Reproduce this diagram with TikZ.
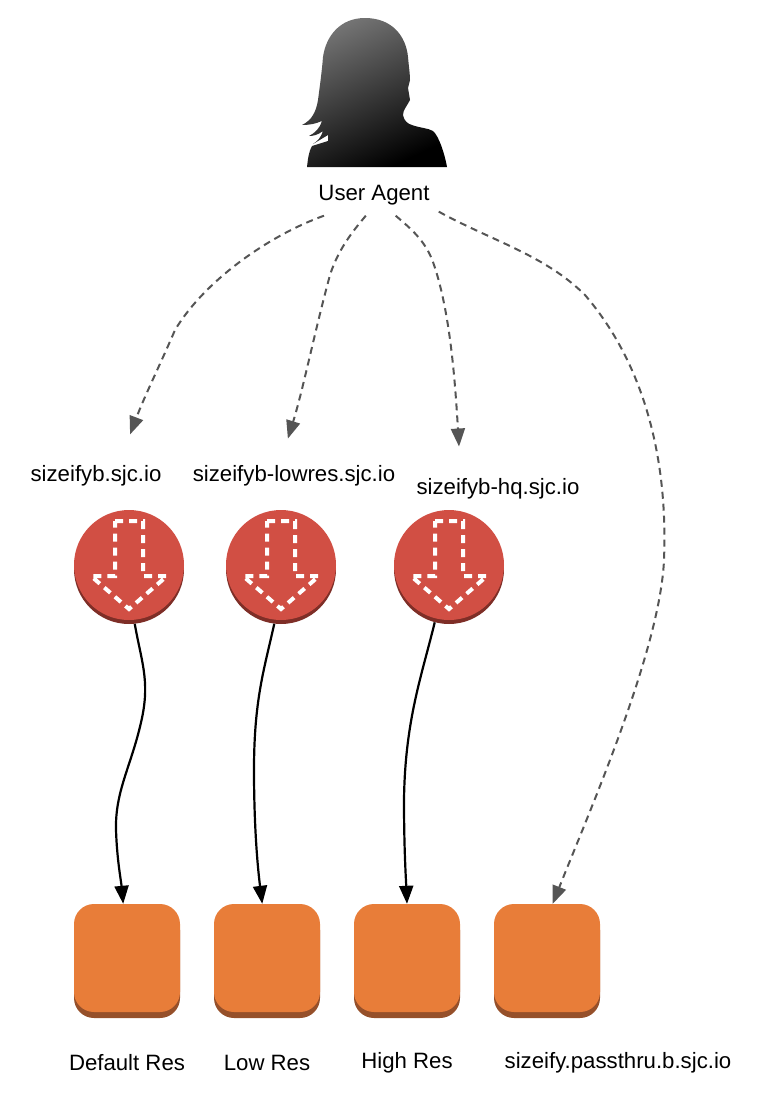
\documentclass[tikz,border=0pt]{standalone}
\usepackage{fontspec}
\setmainfont{Liberation Sans}
\usetikzlibrary{arrows.meta}
\definecolor{lbred}{HTML}{D14F44}
\definecolor{lbdark}{HTML}{7E2E27}
\definecolor{bucketorange}{HTML}{E87D39}
\definecolor{bucketdark}{HTML}{96502A}
\definecolor{edgegray}{HTML}{555555}
\tikzset{
  lbnode/.style={circle,fill=lbred,minimum size=110pt,inner sep=0pt},
  lbshadow/.style={circle,fill=lbdark,minimum size=110pt,inner sep=0pt},
  lbarrow/.style={draw=white,line width=4pt,dash pattern=on 8pt off 6pt},
  bucketnode/.style={rectangle,rounded corners=20pt,fill=bucketorange,minimum width=106pt,minimum height=108pt,inner sep=0pt},
  bucketshadow/.style={rectangle,rounded corners=20pt,fill=bucketdark,minimum width=106pt,minimum height=108pt,inner sep=0pt},
  textlabel/.style={font=\fontsize{22.2}{26}\selectfont,text=black,inner sep=3pt},
  useredge/.style={draw=edgegray,line width=2pt,dash pattern=on 7pt off 5pt,-{Triangle[length=18pt,width=14pt]}},
  originedge/.style={draw=black,line width=2.2pt,-{Triangle[length=18pt,width=14pt]}}
}
\begin{document}
\begin{tikzpicture}[x=1pt,y=-1pt]
\useasboundingbox (0,0) rectangle (760,1104);

\shade[top color=black!55,bottom color=black,shading angle=25]
  (365,18) .. controls (392,18) and (406,36) .. (408,57)
  .. controls (409,68) and (410,74) .. (410,80)
  -- (408,88) -- (410,100)
  .. controls (407,106) and (403,110) .. (403,115)
  .. controls (404,121) and (408,124) .. (412,125)
  .. controls (420,128) and (428,128) .. (433,131)
  .. controls (439,136) and (445,155) .. (447,167)
  -- (307,167)
  .. controls (308,158) and (309,151) .. (312,146)
  -- (328,141) -- (328,135) -- (313,144)
  .. controls (318,141) and (321,137) .. (323,131)
  .. controls (318,135) and (313,136) .. (309,136)
  .. controls (315,133) and (320,128) .. (322,121)
  .. controls (315,124) and (309,125) .. (302,125)
  .. controls (312,120) and (316,112) .. (318,100)
  .. controls (320,85) and (322,70) .. (323,57)
  .. controls (326,36) and (340,18) .. (365,18) -- cycle;

\node[textlabel,inner xsep=9pt,minimum height=40pt] (agent) at (374,195.5) {User Agent};
\node[textlabel] (sizeifyb) at (96,476) {sizeifyb.sjc.io};
\node[textlabel] (lowres) at (294,476) {sizeifyb-lowres.sjc.io};
\node[textlabel] (hq) at (498,489) {sizeifyb-hq.sjc.io};

\foreach \n/\x in {a/129,b/281,c/449}{
  \node[lbshadow] (shadow\n) at (\x,569) {};
  \node[lbnode] (lb\n) at (\x,565) {};
  \draw[lbarrow,shift={(\x,565)}] (-14,-44) -- (14,-44) -- (14,11) -- (38,11) -- (0,44) -- (-38,11) -- (-14,11) -- cycle;
}

\foreach \n/\x in {a/127,b/267,c/407,d/547}{
  \node[bucketshadow] (bshadow\n) at (\x,964) {};
  \node[bucketnode] (bucket\n) at (\x,958) {};
}

\node[textlabel] (defaultres) at (127,1063) {Default Res};
\node[textlabel] (lowlabel) at (267,1063) {Low Res};
\node[textlabel] (highlabel) at (407,1063) {High Res};
\node[textlabel] (passthru) at (618,1063) {sizeify.passthru.b.sjc.io};

\draw[useredge,shorten >=30pt] (agent.202.2) .. controls (270,235) and (205,280) .. (175,330) .. controls (160,365) and (145,395) .. (sizeifyb.30);
\draw[useredge,shorten >=25pt] (agent.-112) .. controls (352,232) and (338,250) .. (330,275) .. controls (315,330) and (303,390) .. (lowres.135);
\draw[useredge,shorten >=29pt] (agent.-43.6) .. controls (410,228) and (425,240) .. (433,262) .. controls (450,310) and (455,380) .. (hq.160);
\draw[useredge] (agent.-14) .. controls (490,240) and (545,255) .. (585,295) .. controls (645,365) and (668,460) .. (664,560) .. controls (660,650) and (590,810) .. (bucketd.84.7);

\draw[originedge] (shadowa.-84) .. controls (141,660) and (150,680) .. (142,718) .. controls (132,765) and (115,790) .. (116,830) .. controls (117,860) and (121,880) .. (bucketa.94);
\draw[originedge] (shadowb.-97) .. controls (264,670) and (254,700) .. (254,770) .. controls (254,830) and (258,870) .. (bucketb.95);
\draw[originedge] (shadowc.-105) .. controls (422,675) and (405,720) .. (404,800) .. controls (404,850) and (406,880) .. (bucketc.north);
\end{tikzpicture}
\end{document}
